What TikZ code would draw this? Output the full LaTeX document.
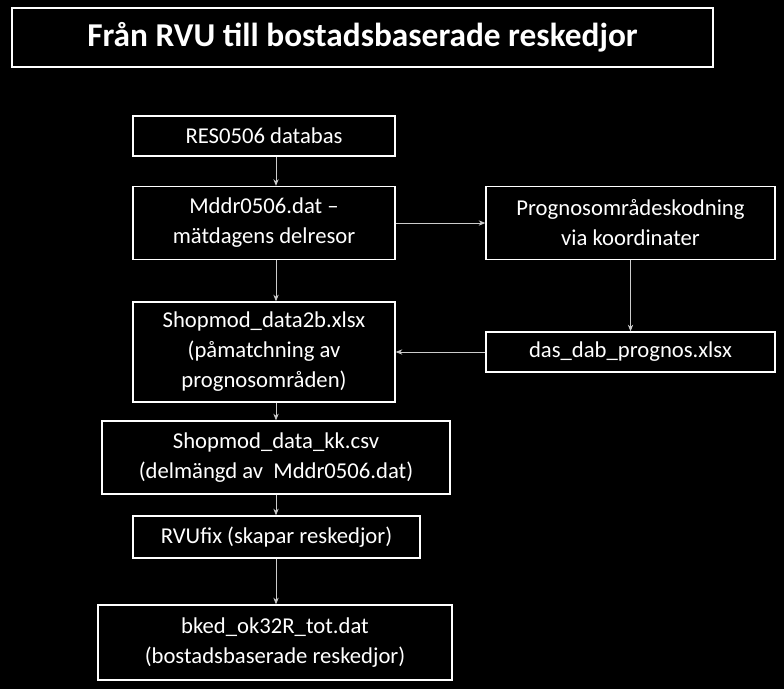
\documentclass[tikz,border=0pt]{standalone}
\usepackage{fontspec}
\setmainfont{Carlito}
\usetikzlibrary{arrows.meta}
\begin{document}
\begin{tikzpicture}[x=0.75pt,y=-0.75pt]
    \tikzset{box/.style={rectangle,draw=white,line width=1pt,text=white,align=center,inner sep=0pt,
        font=\fontsize{17}{22.5}\selectfont},
      arr/.style={draw=white!80!black,line width=0.6pt,-{Stealth[length=5pt,width=4pt]}}}
    \fill[black] (0,0) rectangle (784,689);

    \node[box,minimum width=701*0.75pt,minimum height=59*0.75pt,font=\bfseries\fontsize{25}{30}\selectfont] (title) at (362.5,37.5) {Från RVU till bostadsbaserade reskedjor};

    \node[box,minimum width=262*0.75pt,minimum height=40*0.75pt] (res) at (264,136) {RES0506 databas};
    \node[box,minimum width=262*0.75pt,minimum height=73*0.75pt] (mddr) at (264,223) {Mddr0506.dat –\\mätdagens delresor};
    \node[box,minimum width=289*0.75pt,minimum height=73*0.75pt] (prog) at (630.5,223) {Prognosområdeskodning\\via koordinater};
    \node[box,minimum width=289*0.75pt,minimum height=40*0.75pt] (das) at (630.5,352) {das\_dab\_prognos.xlsx};
    \node[box,minimum width=262*0.75pt,minimum height=100*0.75pt] (shop) at (264,352) {Shopmod\_data2b.xlsx\\(påmatchning av\\prognosområden)};
    \node[box,minimum width=348*0.75pt,minimum height=73*0.75pt] (kk) at (276,457.5) {Shopmod\_data\_kk.csv\\(delmängd av~~Mddr0506.dat)};
    \node[box,minimum width=287*0.75pt,minimum height=42*0.75pt] (fix) at (276.5,537) {RVUfix (skapar reskedjor)};
    \node[box,minimum width=354*0.75pt,minimum height=75*0.75pt] (bked) at (275,642.5) {bked\_ok32R\_tot.dat\\(bostadsbaserade reskedjor)};

    \draw[arr] (res.south -| kk) -- (mddr.north -| kk);
    \draw[arr] (mddr) -- (prog);
    \draw[arr] (mddr.south -| kk) -- (shop.north -| kk);
    \draw[arr] (prog.south -| das) -- (das.north -| das);
    \draw[arr] (das) -- (shop);
    \draw[arr] (shop.south -| kk) -- (kk.north);
    \draw[arr] (kk.south) -- (fix.north -| kk);
    \draw[arr] (fix.south -| kk) -- (bked.north -| kk);
\end{tikzpicture}
\end{document}
